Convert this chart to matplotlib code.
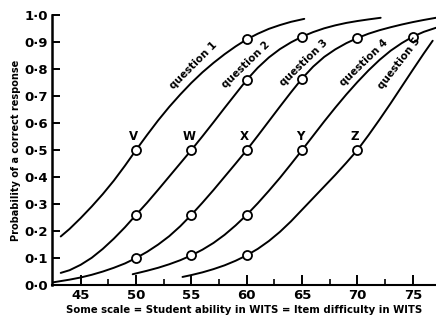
import matplotlib
matplotlib.use("Agg")
import matplotlib.pyplot as plt

# curves: ability (WITS) vs probability of a correct response
q1_x = [43.2, 44, 45, 46, 47, 48, 49, 50, 51, 52, 53, 54, 55, 56, 57, 58, 59, 60, 61, 62, 63, 64, 65.2]
q1_y = [0.18, 0.208, 0.248, 0.291, 0.337, 0.387, 0.442, 0.50, 0.556, 0.61, 0.66, 0.706, 0.749,
        0.788, 0.823, 0.855, 0.884, 0.91, 0.931, 0.949, 0.963, 0.975, 0.986]
q2_x = [43.2, 44, 45, 46, 47, 48, 49, 50, 51, 52, 53, 54, 55, 56, 57, 58, 59, 60, 61, 62, 63,
        64, 65, 66, 67, 68, 69, 70, 71, 72.1]
q2_y = [0.045, 0.055, 0.075, 0.101, 0.134, 0.172, 0.214, 0.26, 0.305, 0.353, 0.402, 0.451, 0.50,
        0.551, 0.603, 0.656, 0.708, 0.76, 0.805, 0.843, 0.874, 0.899, 0.92, 0.937, 0.951, 0.962,
        0.971, 0.978, 0.984, 0.99]
q3_x = [42.5, 44, 45, 46, 47, 48, 49, 50, 51, 52, 53, 54, 55, 56, 57, 58, 59, 60, 61, 62, 63,
        64, 65, 66, 67, 68, 69, 70, 71, 72, 73, 74, 75, 76, 77.1]
q3_y = [0.01, 0.02, 0.028, 0.038, 0.05, 0.064, 0.08, 0.10, 0.123, 0.15, 0.181, 0.218, 0.26,
        0.305, 0.352, 0.401, 0.45, 0.50, 0.553, 0.607, 0.661, 0.714, 0.765, 0.809, 0.845, 0.873,
        0.896, 0.915, 0.931, 0.944, 0.955, 0.965, 0.974, 0.982, 0.99]
q4_x = [49.7, 51, 52, 53, 54, 55, 56, 57, 58, 59, 60, 61, 62, 63, 64, 65, 66, 67, 68, 69, 70,
        71, 72, 73, 74, 75, 76, 77.1]
q4_y = [0.04, 0.053, 0.064, 0.077, 0.092, 0.11, 0.131, 0.156, 0.186, 0.221, 0.26, 0.303, 0.349,
        0.397, 0.448, 0.50, 0.553, 0.606, 0.657, 0.706, 0.752, 0.795, 0.834, 0.868, 0.896, 0.92,
        0.938, 0.953]
q5_x = [54.2, 55, 56, 57, 58, 59, 60, 61, 62, 63, 64, 65, 66, 67, 68, 69, 70, 71, 72, 73, 74,
        75, 76, 76.8]
q5_y = [0.03, 0.037, 0.047, 0.059, 0.073, 0.09, 0.11, 0.134, 0.163, 0.197, 0.236, 0.279, 0.322,
        0.365, 0.408, 0.453, 0.50, 0.555, 0.613, 0.673, 0.735, 0.797, 0.858, 0.905]

# circled points on each curve
c1_x, c1_y = [50, 60], [0.50, 0.91]
c2_x, c2_y = [50, 55, 60, 65], [0.26, 0.50, 0.76, 0.92]
c3_x, c3_y = [50, 55, 60, 65, 70], [0.10, 0.26, 0.50, 0.765, 0.915]
c4_x, c4_y = [55, 60, 65, 75], [0.11, 0.26, 0.50, 0.92]
c5_x, c5_y = [60, 70], [0.11, 0.50]

labels = ["question 1", "question 2", "question 3", "question 4", "question 5"]
letters = ["V", "W", "X", "Y", "Z"]
difficulty = [50, 55, 60, 65, 70]

xticks = [45, 50, 55, 60, 65, 70, 75]
yticks = [0.0, 0.1, 0.2, 0.3, 0.4, 0.5, 0.6, 0.7, 0.8, 0.9, 1.0]

plt.rcParams['font.family'] = ['DejaVu Sans']
plt.rcParams['font.weight'] = 'bold'

fig = plt.figure(figsize=(4.36, 3.21), dpi=100)
ax = fig.add_axes([0.119, 0.112, 0.881, 0.841])

curves = [(q1_x, q1_y), (q2_x, q2_y), (q3_x, q3_y), (q4_x, q4_y), (q5_x, q5_y)]
circles = [(c1_x, c1_y), (c2_x, c2_y), (c3_x, c3_y), (c4_x, c4_y), (c5_x, c5_y)]

for cx, cy in curves:
    ax.plot(cx, cy, color='black', lw=1.4, solid_capstyle='round', solid_joinstyle='round', zorder=2)
for cx, cy in circles:
    ax.plot(cx, cy, 'o', ms=6.5, mfc='white', mec='black', mew=1.3, zorder=3)

# rotated labels along the curves
lab_pos = [(55.2, 0.815, 45), (59.9, 0.815, 44), (65.2, 0.822, 44), (70.6, 0.822, 44), (73.8, 0.822, 52)]
for lab, (lx, ly, rot) in zip(labels, lab_pos):
    ax.text(lx, ly, lab, rotation=rot, rotation_mode='anchor', ha='center', va='center',
            fontsize=7.5, fontweight='bold')

for let, d in zip(letters, difficulty):
    ax.text(d - 0.2, 0.55, let, ha='center', va='center', fontsize=8.5, fontweight='bold')

ax.set_xlim(42.4, 77.1)
ax.set_ylim(0, 1.0)
ax.spines['top'].set_visible(False)
ax.spines['right'].set_visible(False)
ax.spines['left'].set_linewidth(1.8)
ax.spines['bottom'].set_linewidth(1.5)

ax.set_xticks(xticks)
ax.set_xticks([47.5, 52.5, 57.5, 62.5, 67.5, 72.5], minor=True)
ax.set_yticks(yticks)
ax.set_yticklabels([("%.1f" % v).replace(".", "\u00b7") for v in yticks])
ax.tick_params(axis='x', which='major', direction='in', length=7, width=1.4, labelsize=9.5, pad=3)
ax.tick_params(axis='x', which='minor', direction='in', length=4, width=1.2)
ax.tick_params(axis='y', direction='in', length=6, width=1.4, labelsize=9.5, pad=3)

ax.set_xlabel("Some scale = Student ability in WITS = Item difficulty in WITS", fontsize=7.3,
              fontweight='bold', labelpad=2)
ax.set_ylabel("Probability of a correct response", fontsize=7.0, fontweight='bold', labelpad=2)

fig.savefig("out.png", dpi=100)
